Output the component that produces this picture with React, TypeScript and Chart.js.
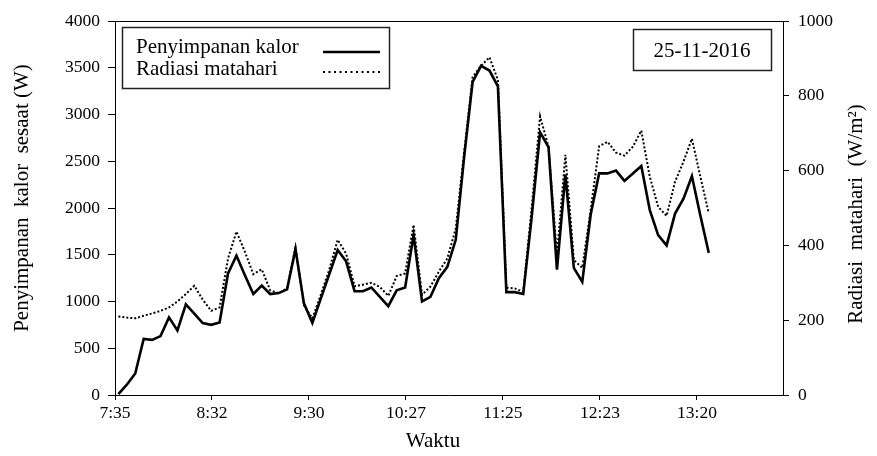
import React, { useEffect, useRef } from "react";
import { Chart, registerables } from "chart.js";

Chart.register(...registerables);

// Measurement times (h:mm), one reading every five minutes
const times = [
  "7:37", "7:42", "7:47", "7:52", "7:57",
  "8:02", "8:07", "8:12", "8:17", "8:22", "8:27", "8:32", "8:37", "8:42", "8:47", "8:52", "8:57",
  "9:02", "9:07", "9:12", "9:17", "9:22", "9:27", "9:32", "9:37", "9:42", "9:47", "9:52", "9:57",
  "10:02", "10:07", "10:12", "10:17", "10:22", "10:27", "10:32", "10:37", "10:42", "10:47", "10:52", "10:57",
  "11:02", "11:07", "11:12", "11:17", "11:22", "11:27", "11:32", "11:37", "11:42", "11:47", "11:52", "11:57",
  "12:02", "12:07", "12:12", "12:17", "12:22", "12:27", "12:32", "12:37", "12:42", "12:47", "12:52", "12:57",
  "13:02", "13:07", "13:12", "13:17", "13:22", "13:27",
];

// Instantaneous heat storage (W)
const penyimpananKalor = [
  10, 110, 230, 600, 590, 630, 830, 690, 970, 870,
  770, 750, 775, 1300, 1490, 1280, 1080, 1170, 1080, 1090,
  1130, 1560, 980, 770, 1030, 1290, 1550, 1430, 1110, 1110,
  1150, 1050, 950, 1120, 1150, 1710, 1000, 1050, 1250, 1370,
  1660, 2550, 3350, 3520, 3470, 3300, 1100, 1100, 1080, 1900,
  2810, 2650, 1340, 2360, 1360, 1210, 1930, 2370, 2370, 2400,
  2290, 2370, 2450, 1980, 1710, 1600, 1940, 2100, 2340, 1920,
  1520,
];

// Solar radiation (W/m²)
const radiasiMatahari = [
  210, 207, 205, 212, 218, 225, 234, 250, 270, 292,
  255, 225, 234, 365, 437, 383, 323, 336, 280, 272,
  285, 395, 240, 205, 268, 335, 415, 378, 291, 295,
  300, 289, 265, 318, 325, 455, 268, 290, 330, 365,
  445, 650, 850, 880, 903, 842, 287, 285, 276, 500,
  745, 664, 375, 642, 361, 340, 495, 665, 677, 648,
  640, 664, 707, 584, 503, 479, 570, 624, 685, 584,
  486,
];

// Time axis: minutes since midnight, major unit 57.5 min
const xAxisMin = 455;
const xAxisMax = 851;
const xTickValues = [455, 512.5, 570, 627.5, 685, 742.5, 800];
const xTickLabels = ["7:35", "8:32", "9:30", "10:27", "11:25", "12:23", "13:20"];

const leftAxisTitle = "Penyimpanan  kalor  sesaat (W)";
const rightAxisTitle = "Radiasi  matahari  (W/m\u00B2)";
const xAxisTitle = "Waktu";
const legendLabels = ["Penyimpanan kalor", "Radiasi matahari"];
const dateLabel = "25-11-2016";

const SERIF = '"Liberation Serif", "Times New Roman", serif';

const toMinutes = (t: string) => {
  const [h, m] = t.split(":").map(Number);
  return h * 60 + m;
};

const annotations = {
  id: "annotations",
  afterDraw(chart: Chart) {
    const { ctx, chartArea } = chart;
    ctx.save();

    // top frame line of the plot area
    ctx.strokeStyle = "#000";
    ctx.lineWidth = 1;
    ctx.beginPath();
    ctx.moveTo(chartArea.left, Math.round(chartArea.top) + 0.5);
    ctx.lineTo(chartArea.right, Math.round(chartArea.top) + 0.5);
    ctx.stroke();

    ctx.fillStyle = "#000";
    ctx.font = `21px ${SERIF}`;
    ctx.textAlign = "center";
    ctx.textBaseline = "middle";

    // axis titles
    ctx.save();
    ctx.translate(22, 198);
    ctx.rotate(-Math.PI / 2);
    ctx.fillText(leftAxisTitle, 0, 0);
    ctx.restore();

    ctx.save();
    ctx.translate(856, 214);
    ctx.rotate(-Math.PI / 2);
    ctx.fillText(rightAxisTitle, 0, 0);
    ctx.restore();

    ctx.fillText(xAxisTitle, 433, 441);

    // legend box
    ctx.strokeStyle = "#222";
    ctx.lineWidth = 1.5;
    ctx.strokeRect(122.5, 27.5, 267, 61);
    ctx.textAlign = "left";
    ctx.textBaseline = "alphabetic";
    ctx.fillText(legendLabels[0], 136, 53);
    ctx.fillText(legendLabels[1], 136, 75);

    ctx.strokeStyle = "#000";
    ctx.lineWidth = 2.6;
    ctx.beginPath();
    ctx.moveTo(323, 52);
    ctx.lineTo(380, 52);
    ctx.stroke();

    ctx.lineWidth = 2;
    ctx.setLineDash([2, 3.5]);
    ctx.beginPath();
    ctx.moveTo(323, 72);
    ctx.lineTo(382, 72);
    ctx.stroke();
    ctx.setLineDash([]);

    // date box
    ctx.strokeStyle = "#222";
    ctx.lineWidth = 1.5;
    ctx.strokeRect(633.5, 29.5, 138, 41);
    ctx.textAlign = "center";
    ctx.textBaseline = "alphabetic";
    ctx.fillText(dateLabel, 702, 57);

    ctx.restore();
  },
};

export default function App() {
  const canvasRef = useRef<HTMLCanvasElement | null>(null);

  useEffect(() => {
    if (!canvasRef.current) return;
    const tickFont = { family: SERIF, size: 17.5 };
    const xs = times.map(toMinutes);
    const plainNumber = (v: any) => String(v);

    const chart = new Chart(canvasRef.current, {
      type: "line",
      data: {
        datasets: [
          {
            label: legendLabels[0],
            data: xs.map((x, i) => ({ x, y: penyimpananKalor[i] })),
            yAxisID: "y",
            borderColor: "#000",
            borderWidth: 2.6,
            pointRadius: 0,
            tension: 0,
            fill: false,
          },
          {
            label: legendLabels[1],
            data: xs.map((x, i) => ({ x, y: radiasiMatahari[i] })),
            yAxisID: "y1",
            borderColor: "#000",
            borderWidth: 2,
            borderDash: [2, 2],
            pointRadius: 0,
            tension: 0,
            fill: false,
          },
        ],
      },
      options: {
        animation: false,
        responsive: true,
        maintainAspectRatio: false,
        layout: { padding: { top: 21, left: 0, right: 0, bottom: 0 } },
        plugins: {
          legend: { display: false },
          tooltip: { enabled: false },
        },
        scales: {
          x: {
            type: "linear",
            position: "bottom",
            min: xAxisMin,
            max: xAxisMax,
            afterBuildTicks: (scale: any) => {
              scale.ticks = xTickValues.map((value) => ({ value }));
            },
            afterFit: (scale: any) => {
              scale.height = 61;
            },
            ticks: {
              autoSkip: false,
              maxRotation: 0,
              minRotation: 0,
              padding: 3,
              color: "#000",
              font: tickFont,
              callback: (_v: any, i: number) => xTickLabels[i],
            },
            grid: { drawOnChartArea: false, drawTicks: true, tickLength: 5, color: "#000" },
            border: { display: true, color: "#000", width: 1 },
          },
          y: {
            type: "linear",
            position: "left",
            min: 0,
            max: 4000,
            afterFit: (scale: any) => {
              scale.width = 115;
            },
            ticks: { stepSize: 500, padding: 8, color: "#000", font: tickFont, callback: plainNumber },
            grid: { drawOnChartArea: false, drawTicks: true, tickLength: 7, color: "#000" },
            border: { display: true, color: "#000", width: 1 },
          },
          y1: {
            type: "linear",
            position: "right",
            min: 0,
            max: 1000,
            afterFit: (scale: any) => {
              scale.width = 94;
            },
            ticks: { stepSize: 200, padding: 9, color: "#000", font: tickFont, callback: plainNumber },
            grid: { drawOnChartArea: false, drawTicks: true, tickLength: 6, color: "#000" },
            border: { display: true, color: "#000", width: 1 },
          },
        },
      },
      plugins: [annotations],
    });

    return () => chart.destroy();
  }, []);

  return (
    <div
      style={{
        position: "absolute",
        left: 0,
        top: 0,
        width: 877,
        height: 456,
        background: "#fff",
      }}
    >
      <canvas ref={canvasRef} />
    </div>
  );
}
